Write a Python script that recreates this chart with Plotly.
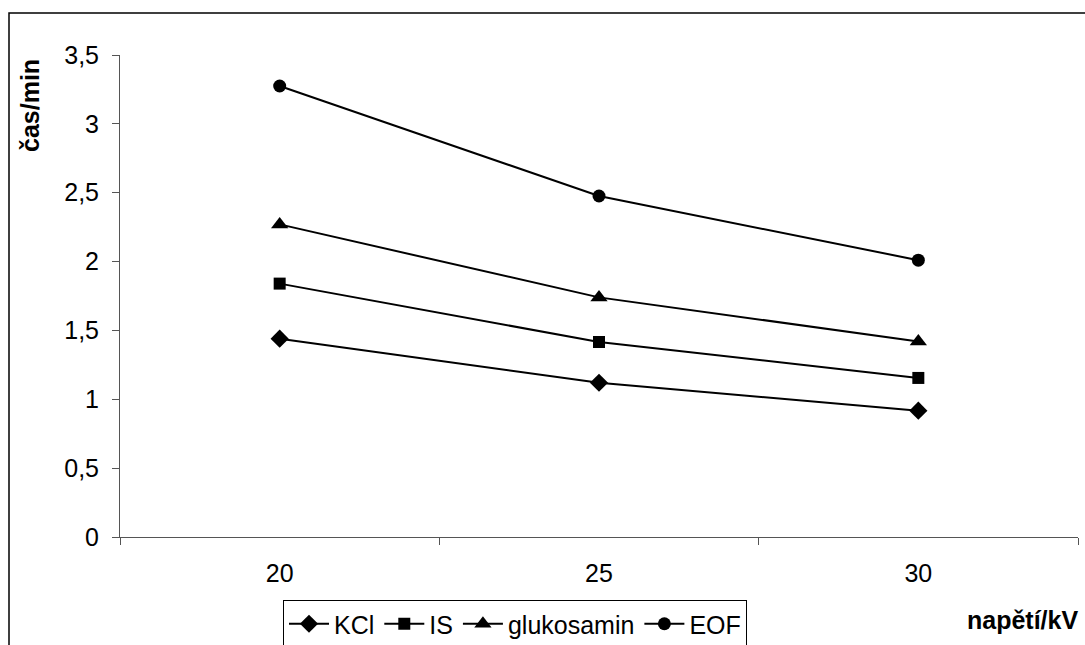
import plotly.graph_objects as go

voltage = ["20", "25", "30"]
kcl = [1.44, 1.12, 0.917]
is_ = [1.84, 1.416, 1.155]
glukosamin = [2.27, 1.74, 1.42]
eof = [3.275, 2.476, 2.01]

series = [
    ("KCl", kcl, "diamond", 14),
    ("IS", is_, "square", 12),
    ("glukosamin", glukosamin, "triangle-up", 15),
    ("EOF", eof, "circle", 13),
]

FONT = "Arial, Liberation Sans, sans-serif"
FS = 25

fig = go.Figure()
for name, vals, sym, sz in series:
    fig.add_trace(go.Scatter(
        x=voltage, y=vals, name=name, mode="lines+markers",
        line=dict(color="black", width=2),
        marker=dict(symbol=sym, size=sz, color="black"),
    ))

W, H = 1085, 645
L, R, T, B = 120, 7, 55, 108
pw, ph = W - L - R, H - T - B

def px(x):
    return (x - L) / pw

def py(y):
    return (H - B - y) / ph

fig.update_layout(
    width=W, height=H,
    margin=dict(l=L, r=R, t=T, b=B, autoexpand=False),
    paper_bgcolor="white", plot_bgcolor="white",
    separators=", ",
    font=dict(family=FONT, size=FS, color="black"),
    showlegend=True,
    legend=dict(
        orientation="h", x=px(283), y=py(600), xanchor="left", yanchor="top",
        bordercolor="black", borderwidth=1, bgcolor="white",
        font=dict(size=FS, family=FONT), itemwidth=40,
        tracegroupgap=0,
    ),
    xaxis=dict(
        type="category", range=[-0.5, 2.5], tickson="boundaries",
        ticks="outside", ticklen=7, tickcolor="#555", showline=True,
        linecolor="#555", linewidth=1, showgrid=False, zeroline=False,
        tickfont=dict(size=FS), fixedrange=True, ticklabelstandoff=14,
    ),
    yaxis=dict(
        range=[0, 3.5], dtick=0.5, ticks="outside", ticklen=7, tickcolor="#555",
        showline=True, linecolor="#555", linewidth=1, showgrid=False,
        zeroline=False, tickfont=dict(size=FS), fixedrange=True,
        ticklabelstandoff=8,
    ),
    annotations=[
        dict(text="<b>čas/min</b>", x=px(30), y=py(106), xref="paper", yref="paper",
             textangle=-90, showarrow=False, font=dict(size=FS, family=FONT),
             xanchor="center", yanchor="middle"),
        dict(text="<b>napětí/kV</b>", x=px(1022), y=py(620), xref="paper", yref="paper",
             showarrow=False, font=dict(size=FS, family=FONT),
             xanchor="center", yanchor="middle"),
    ],
    shapes=[
        dict(type="rect", xref="paper", yref="paper",
             x0=px(9), x1=px(1100), y0=py(665), y1=py(13),
             line=dict(color="black", width=1.5), fillcolor="rgba(0,0,0,0)",
             layer="below"),
    ],
)

fig.write_html("out.html")
